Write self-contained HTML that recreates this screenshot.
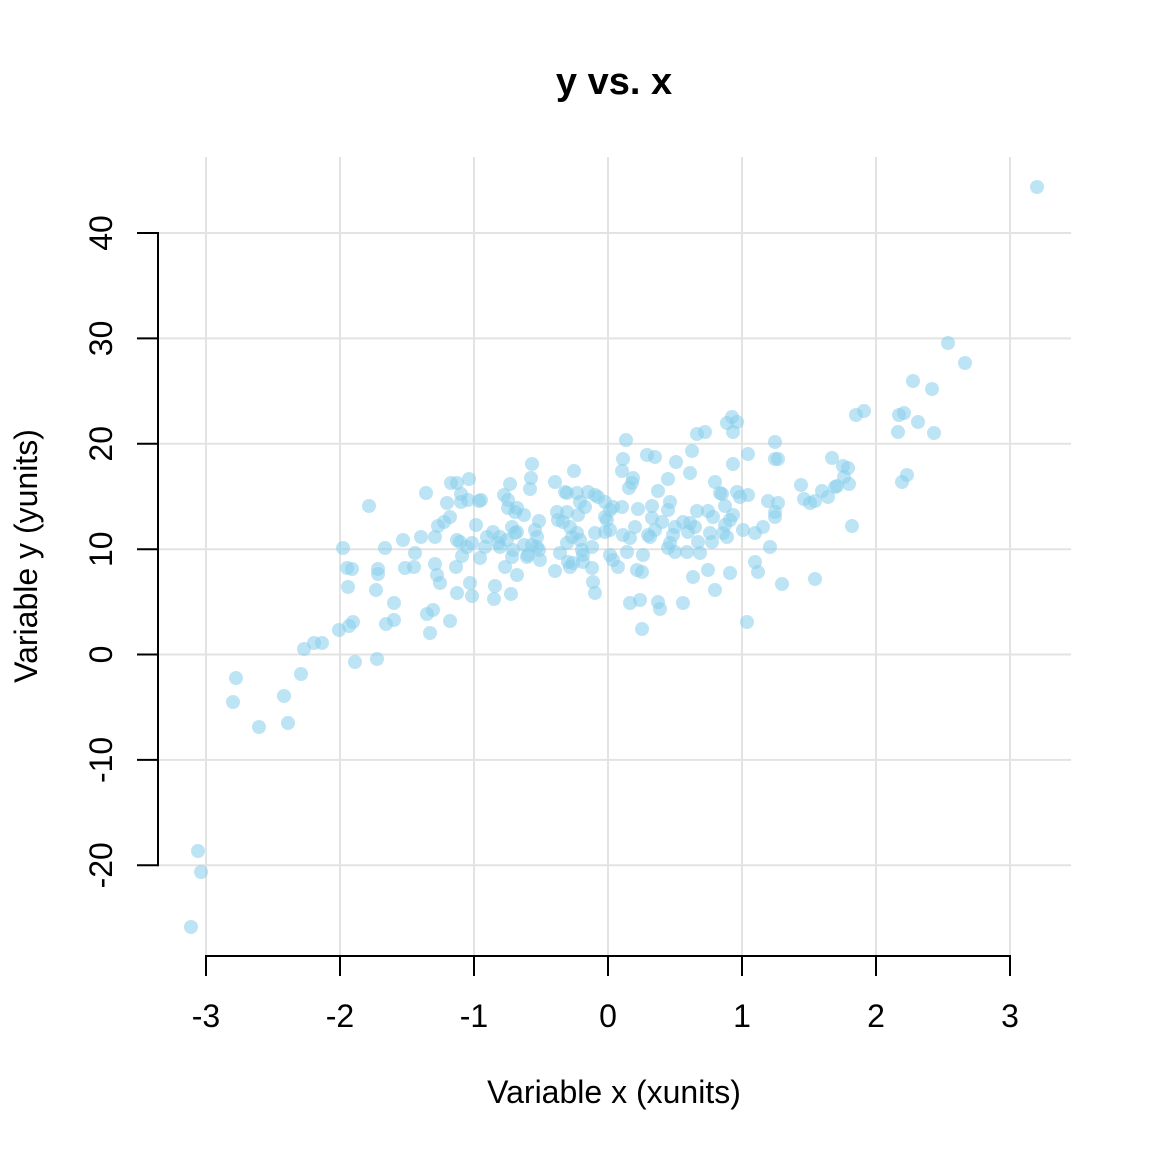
<!DOCTYPE html>
<html><head><meta charset="utf-8"><style>
html,body{margin:0;padding:0;background:#fff;}
svg{display:block;}
text{font-family:"Liberation Sans",Arial,sans-serif;fill:#000;}
</style></head><body>
<svg width="1152" height="1152" viewBox="0 0 1152 1152" xmlns="http://www.w3.org/2000/svg">
<rect width="1152" height="1152" fill="#fff"/>
<g stroke="#e3e3e3" stroke-width="2">
<line x1="206" y1="157" x2="206" y2="955"/>
<line x1="340" y1="157" x2="340" y2="955"/>
<line x1="474" y1="157" x2="474" y2="955"/>
<line x1="608" y1="157" x2="608" y2="955"/>
<line x1="742" y1="157" x2="742" y2="955"/>
<line x1="876" y1="157" x2="876" y2="955"/>
<line x1="1010" y1="157" x2="1010" y2="955"/>
<line x1="158" y1="233" x2="1071" y2="233"/>
<line x1="158" y1="338.4" x2="1071" y2="338.4"/>
<line x1="158" y1="443.8" x2="1071" y2="443.8"/>
<line x1="158" y1="549.2" x2="1071" y2="549.2"/>
<line x1="158" y1="654.5" x2="1071" y2="654.5"/>
<line x1="158" y1="759.9" x2="1071" y2="759.9"/>
<line x1="158" y1="865.3" x2="1071" y2="865.3"/>
</g>
<g stroke="#000" stroke-width="2" fill="none">
<line x1="158" y1="232" x2="158" y2="866.3"/>
<line x1="137" y1="233" x2="158" y2="233"/>
<line x1="137" y1="338.4" x2="158" y2="338.4"/>
<line x1="137" y1="443.8" x2="158" y2="443.8"/>
<line x1="137" y1="549.2" x2="158" y2="549.2"/>
<line x1="137" y1="654.5" x2="158" y2="654.5"/>
<line x1="137" y1="759.9" x2="158" y2="759.9"/>
<line x1="137" y1="865.3" x2="158" y2="865.3"/>
<line x1="205" y1="956" x2="1011" y2="956"/>
<line x1="206" y1="956" x2="206" y2="976"/>
<line x1="340" y1="956" x2="340" y2="976"/>
<line x1="474" y1="956" x2="474" y2="976"/>
<line x1="608" y1="956" x2="608" y2="976"/>
<line x1="742" y1="956" x2="742" y2="976"/>
<line x1="876" y1="956" x2="876" y2="976"/>
<line x1="1010" y1="956" x2="1010" y2="976"/>
</g>
<g fill="rgb(135,206,235)" fill-opacity="0.55">
<circle cx="198" cy="851" r="7"/><circle cx="201" cy="872" r="7"/><circle cx="191" cy="927" r="7"/><circle cx="1037" cy="187" r="7"/>
<circle cx="369" cy="506" r="7"/><circle cx="385" cy="548" r="7"/><circle cx="343" cy="548" r="7"/><circle cx="347" cy="568" r="7"/><circle cx="352" cy="569" r="7"/><circle cx="378" cy="569" r="7"/><circle cx="378" cy="574" r="7"/><circle cx="348" cy="587" r="7"/><circle cx="376" cy="590" r="7"/><circle cx="394" cy="603" r="7"/><circle cx="386" cy="624" r="7"/><circle cx="394" cy="620" r="7"/><circle cx="353" cy="622" r="7"/><circle cx="349" cy="626" r="7"/><circle cx="339" cy="630" r="7"/><circle cx="322" cy="643" r="7"/><circle cx="314" cy="643" r="7"/><circle cx="304" cy="649" r="7"/><circle cx="355" cy="662" r="7"/><circle cx="377" cy="659" r="7"/><circle cx="236" cy="678" r="7"/><circle cx="301" cy="674" r="7"/><circle cx="233" cy="702" r="7"/><circle cx="284" cy="696" r="7"/><circle cx="259" cy="727" r="7"/><circle cx="288" cy="723" r="7"/>
<circle cx="532" cy="464" r="7"/><circle cx="574" cy="471" r="7"/><circle cx="531" cy="478" r="7"/><circle cx="530" cy="489" r="7"/><circle cx="510" cy="484" r="7"/><circle cx="469" cy="479" r="7"/><circle cx="457" cy="483" r="7"/><circle cx="451" cy="483" r="7"/><circle cx="426" cy="493" r="7"/><circle cx="447" cy="503" r="7"/><circle cx="461" cy="494" r="7"/><circle cx="461" cy="502" r="7"/><circle cx="468" cy="500" r="7"/><circle cx="479" cy="501" r="7"/><circle cx="481" cy="500" r="7"/><circle cx="504" cy="495" r="7"/><circle cx="508" cy="500" r="7"/><circle cx="508" cy="508" r="7"/><circle cx="517" cy="508" r="7"/><circle cx="524" cy="515" r="7"/><circle cx="515" cy="512" r="7"/><circle cx="555" cy="482" r="7"/><circle cx="565" cy="492" r="7"/><circle cx="567" cy="493" r="7"/><circle cx="577" cy="493" r="7"/><circle cx="588" cy="492" r="7"/><circle cx="580" cy="502" r="7"/><circle cx="585" cy="507" r="7"/><circle cx="450" cy="517" r="7"/><circle cx="444" cy="522" r="7"/><circle cx="438" cy="526" r="7"/><circle cx="476" cy="525" r="7"/><circle cx="557" cy="512" r="7"/><circle cx="567" cy="512" r="7"/><circle cx="578" cy="515" r="7"/><circle cx="558" cy="520" r="7"/><circle cx="563" cy="522" r="7"/><circle cx="570" cy="527" r="7"/><circle cx="539" cy="521" r="7"/><circle cx="403" cy="540" r="7"/><circle cx="421" cy="537" r="7"/><circle cx="435" cy="537" r="7"/><circle cx="457" cy="540" r="7"/><circle cx="460" cy="542" r="7"/><circle cx="472" cy="543" r="7"/><circle cx="467" cy="547" r="7"/><circle cx="485" cy="547" r="7"/><circle cx="487" cy="537" r="7"/><circle cx="493" cy="532" r="7"/><circle cx="500" cy="537" r="7"/><circle cx="498" cy="543" r="7"/><circle cx="500" cy="547" r="7"/><circle cx="507" cy="540" r="7"/><circle cx="512" cy="527" r="7"/><circle cx="515" cy="533" r="7"/><circle cx="517" cy="532" r="7"/><circle cx="535" cy="530" r="7"/><circle cx="537" cy="537" r="7"/><circle cx="524" cy="545" r="7"/><circle cx="532" cy="545" r="7"/><circle cx="537" cy="547" r="7"/><circle cx="539" cy="550" r="7"/><circle cx="528" cy="555" r="7"/><circle cx="527" cy="557" r="7"/><circle cx="540" cy="560" r="7"/><circle cx="512" cy="557" r="7"/><circle cx="513" cy="550" r="7"/><circle cx="480" cy="558" r="7"/><circle cx="462" cy="556" r="7"/><circle cx="415" cy="553" r="7"/><circle cx="414" cy="567" r="7"/><circle cx="405" cy="568" r="7"/><circle cx="435" cy="564" r="7"/><circle cx="437" cy="575" r="7"/><circle cx="440" cy="583" r="7"/><circle cx="456" cy="567" r="7"/><circle cx="457" cy="593" r="7"/><circle cx="470" cy="583" r="7"/><circle cx="472" cy="596" r="7"/><circle cx="495" cy="586" r="7"/><circle cx="494" cy="599" r="7"/><circle cx="505" cy="567" r="7"/><circle cx="517" cy="575" r="7"/><circle cx="511" cy="594" r="7"/><circle cx="555" cy="571" r="7"/><circle cx="560" cy="553" r="7"/><circle cx="567" cy="543" r="7"/><circle cx="572" cy="537" r="7"/><circle cx="577" cy="533" r="7"/><circle cx="580" cy="540" r="7"/><circle cx="582" cy="550" r="7"/><circle cx="583" cy="555" r="7"/><circle cx="568" cy="562" r="7"/><circle cx="570" cy="567" r="7"/><circle cx="573" cy="563" r="7"/><circle cx="583" cy="562" r="7"/><circle cx="427" cy="614" r="7"/><circle cx="433" cy="610" r="7"/><circle cx="450" cy="621" r="7"/><circle cx="430" cy="633" r="7"/>
<circle cx="626" cy="440" r="7"/><circle cx="697" cy="434" r="7"/><circle cx="705" cy="432" r="7"/><circle cx="727" cy="423" r="7"/><circle cx="733" cy="432" r="7"/><circle cx="737" cy="422" r="7"/><circle cx="732" cy="417" r="7"/><circle cx="775" cy="442" r="7"/><circle cx="775" cy="459" r="7"/><circle cx="778" cy="459" r="7"/><circle cx="748" cy="454" r="7"/><circle cx="733" cy="464" r="7"/><circle cx="692" cy="451" r="7"/><circle cx="647" cy="455" r="7"/><circle cx="655" cy="457" r="7"/><circle cx="676" cy="462" r="7"/><circle cx="623" cy="459" r="7"/><circle cx="622" cy="471" r="7"/><circle cx="633" cy="478" r="7"/><circle cx="632" cy="483" r="7"/><circle cx="629" cy="488" r="7"/><circle cx="690" cy="473" r="7"/><circle cx="668" cy="479" r="7"/><circle cx="658" cy="491" r="7"/><circle cx="715" cy="482" r="7"/><circle cx="720" cy="493" r="7"/><circle cx="722" cy="494" r="7"/><circle cx="737" cy="492" r="7"/><circle cx="740" cy="497" r="7"/><circle cx="748" cy="495" r="7"/><circle cx="768" cy="501" r="7"/><circle cx="778" cy="503" r="7"/><circle cx="775" cy="512" r="7"/><circle cx="775" cy="517" r="7"/><circle cx="725" cy="506" r="7"/><circle cx="670" cy="502" r="7"/><circle cx="668" cy="510" r="7"/><circle cx="652" cy="506" r="7"/><circle cx="638" cy="509" r="7"/><circle cx="622" cy="507" r="7"/><circle cx="595" cy="495" r="7"/><circle cx="598" cy="497" r="7"/><circle cx="605" cy="502" r="7"/><circle cx="610" cy="510" r="7"/><circle cx="613" cy="507" r="7"/><circle cx="605" cy="517" r="7"/><circle cx="607" cy="520" r="7"/><circle cx="652" cy="518" r="7"/><circle cx="662" cy="522" r="7"/><circle cx="697" cy="511" r="7"/><circle cx="708" cy="511" r="7"/><circle cx="713" cy="517" r="7"/><circle cx="683" cy="522" r="7"/><circle cx="690" cy="523" r="7"/><circle cx="695" cy="527" r="7"/><circle cx="733" cy="515" r="7"/><circle cx="730" cy="520" r="7"/><circle cx="725" cy="525" r="7"/><circle cx="723" cy="533" r="7"/><circle cx="727" cy="537" r="7"/><circle cx="710" cy="533" r="7"/><circle cx="712" cy="542" r="7"/><circle cx="698" cy="542" r="7"/><circle cx="688" cy="532" r="7"/><circle cx="675" cy="527" r="7"/><circle cx="673" cy="535" r="7"/><circle cx="670" cy="543" r="7"/><circle cx="668" cy="548" r="7"/><circle cx="675" cy="552" r="7"/><circle cx="687" cy="552" r="7"/><circle cx="700" cy="553" r="7"/><circle cx="655" cy="530" r="7"/><circle cx="648" cy="535" r="7"/><circle cx="650" cy="537" r="7"/><circle cx="635" cy="527" r="7"/><circle cx="630" cy="538" r="7"/><circle cx="623" cy="535" r="7"/><circle cx="610" cy="530" r="7"/><circle cx="605" cy="532" r="7"/><circle cx="595" cy="533" r="7"/><circle cx="592" cy="547" r="7"/><circle cx="610" cy="555" r="7"/><circle cx="613" cy="560" r="7"/><circle cx="618" cy="567" r="7"/><circle cx="627" cy="552" r="7"/><circle cx="643" cy="555" r="7"/><circle cx="637" cy="570" r="7"/><circle cx="642" cy="572" r="7"/><circle cx="592" cy="568" r="7"/><circle cx="593" cy="582" r="7"/><circle cx="595" cy="593" r="7"/><circle cx="693" cy="577" r="7"/><circle cx="708" cy="570" r="7"/><circle cx="730" cy="573" r="7"/><circle cx="715" cy="590" r="7"/><circle cx="743" cy="530" r="7"/><circle cx="755" cy="533" r="7"/><circle cx="763" cy="527" r="7"/><circle cx="770" cy="547" r="7"/><circle cx="755" cy="562" r="7"/><circle cx="758" cy="572" r="7"/><circle cx="782" cy="584" r="7"/><circle cx="630" cy="603" r="7"/><circle cx="640" cy="600" r="7"/><circle cx="658" cy="602" r="7"/><circle cx="660" cy="609" r="7"/><circle cx="683" cy="603" r="7"/><circle cx="642" cy="629" r="7"/><circle cx="747" cy="622" r="7"/>
<circle cx="948" cy="343" r="7"/><circle cx="965" cy="363" r="7"/><circle cx="913" cy="381" r="7"/><circle cx="932" cy="389" r="7"/><circle cx="856" cy="415" r="7"/><circle cx="864" cy="411" r="7"/><circle cx="899" cy="415" r="7"/><circle cx="904" cy="413" r="7"/><circle cx="918" cy="422" r="7"/><circle cx="898" cy="432" r="7"/><circle cx="934" cy="433" r="7"/><circle cx="832" cy="458" r="7"/><circle cx="843" cy="466" r="7"/><circle cx="848" cy="468" r="7"/><circle cx="844" cy="477" r="7"/><circle cx="849" cy="484" r="7"/><circle cx="837" cy="486" r="7"/><circle cx="835" cy="487" r="7"/><circle cx="801" cy="485" r="7"/><circle cx="822" cy="491" r="7"/><circle cx="828" cy="497" r="7"/><circle cx="804" cy="499" r="7"/><circle cx="810" cy="503" r="7"/><circle cx="815" cy="501" r="7"/><circle cx="852" cy="526" r="7"/><circle cx="907" cy="475" r="7"/><circle cx="902" cy="482" r="7"/><circle cx="815" cy="579" r="7"/>
</g>
<text x="614" y="94" font-size="38" font-weight="bold" text-anchor="middle">y vs. x</text>
<g font-size="32" text-anchor="middle">
<text x="206" y="1027">-3</text>
<text x="340" y="1027">-2</text>
<text x="474" y="1027">-1</text>
<text x="608" y="1027">0</text>
<text x="742" y="1027">1</text>
<text x="876" y="1027">2</text>
<text x="1010" y="1027">3</text>
<text x="614" y="1103">Variable x (xunits)</text>
<text transform="translate(112,233) rotate(-90)">40</text>
<text transform="translate(112,338.4) rotate(-90)">30</text>
<text transform="translate(112,443.8) rotate(-90)">20</text>
<text transform="translate(112,549.2) rotate(-90)">10</text>
<text transform="translate(112,654.5) rotate(-90)">0</text>
<text transform="translate(112,759.9) rotate(-90)">-10</text>
<text transform="translate(112,865.3) rotate(-90)">-20</text>
<text transform="translate(37,556) rotate(-90)">Variable y (yunits)</text>
</g>
</svg>
</body></html>
